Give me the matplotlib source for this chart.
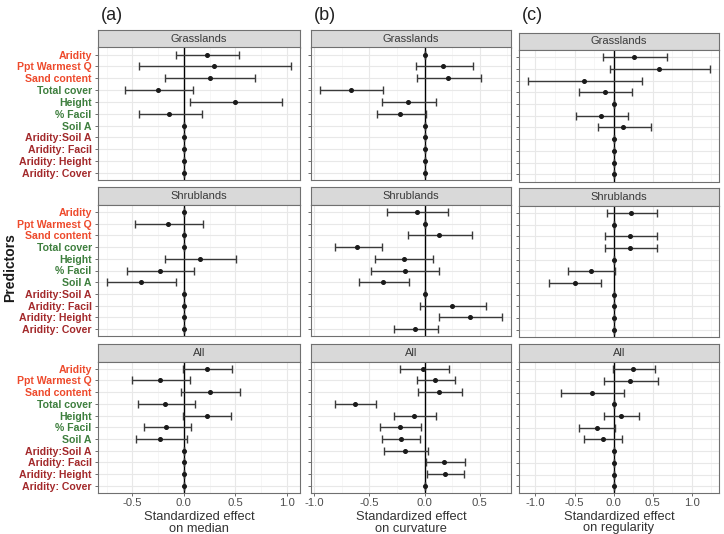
import matplotlib
matplotlib.use("Agg")
import matplotlib.pyplot as plt
from matplotlib.ticker import MultipleLocator, FormatStrFormatter

plt.rcParams["font.family"] = ["Liberation Sans", "DejaVu Sans"]

# --- predictors (top to bottom) and their label colours ---
predictors = ["Aridity", "Ppt Warmest Q", "Sand content", "Total cover", "Height",
              "% Facil", "Soil A", "Aridity:Soil A", "Aridity: Facil",
              "Aridity: Height", "Aridity: Cover"]
label_groups = ["clim", "clim", "clim", "veg", "veg", "veg", "veg",
                "int", "int", "int", "int"]
GROUP_COLOR = {"clim": "#EE4A2C", "veg": "#3E7F3E", "int": "#A3292B"}

strips = ["Grasslands", "Shrublands", "All"]
panel_tags = ["(a)", "(b)", "(c)"]
xtitles = [("Standardized effect", "on median"),
           ("Standardized effect", "on curvature"),
           ("Standardized effect", "on regularity")]

# --- (a) effect on median ---
med_grass_est = [0.22, 0.29, 0.25, -0.25, 0.50, -0.14, 0, 0, 0, 0, 0]
med_grass_lo = [-0.08, -0.44, -0.18, -0.57, 0.06, -0.44, 0, 0, 0, 0, 0]
med_grass_hi = [0.54, 1.04, 0.69, 0.09, 0.95, 0.18, 0, 0, 0, 0, 0]

med_shrub_est = [0, -0.15, 0, 0, 0.16, -0.23, -0.42, 0, 0, 0, 0]
med_shrub_lo = [0, -0.48, 0, 0, -0.18, -0.555, -0.746, 0, 0, 0, 0]
med_shrub_hi = [0, 0.19, 0, 0, 0.51, 0.10, -0.08, 0, 0, 0, 0]

med_all_est = [0.22, -0.23, 0.25, -0.18, 0.22, -0.17, -0.23, 0, 0, 0, 0]
med_all_lo = [-0.01, -0.50, -0.025, -0.45, -0.013, -0.39, -0.47, 0, 0, 0, 0]
med_all_hi = [0.47, 0.06, 0.55, 0.11, 0.46, 0.07, 0.03, 0, 0, 0, 0]

# --- (b) effect on curvature ---
curv_grass_est = [0, 0.17, 0.21, -0.67, -0.15, -0.22, 0, 0, 0, 0, 0]
curv_grass_lo = [0, -0.075, -0.066, -0.946, -0.387, -0.43, 0, 0, 0, 0, 0]
curv_grass_hi = [0, 0.435, 0.507, -0.372, 0.105, 0.015, 0, 0, 0, 0, 0]

curv_shrub_est = [-0.07, 0, 0.135, -0.61, -0.19, -0.18, -0.375, 0, 0.246, 0.408, -0.087]
curv_shrub_lo = [-0.336, 0, -0.153, -0.811, -0.45, -0.489, -0.597, 0, -0.045, 0.132, -0.276]
curv_shrub_hi = [0.213, 0, 0.432, -0.39, 0.075, 0.132, -0.144, 0, 0.559, 0.700, 0.120]

curv_all_est = [-0.01, 0.096, 0.135, -0.631, -0.096, -0.225, -0.216, -0.177, 0.177, 0.183, 0]
curv_all_lo = [-0.222, -0.066, -0.057, -0.811, -0.276, -0.405, -0.387, -0.366, 0.009, 0.021, 0]
curv_all_hi = [0.219, 0.273, 0.336, -0.438, 0.102, -0.03, -0.039, 0.027, 0.366, 0.357, 0]

# --- (c) effect on regularity ---
reg_grass_est = [0.256, 0.582, -0.376, -0.115, 0, -0.162, 0.124, 0, 0, 0, 0]
reg_grass_lo = [-0.141, -0.051, -1.094, -0.444, 0, -0.487, -0.20, 0, 0, 0, 0]
reg_grass_hi = [0.679, 1.231, 0.368, 0.236, 0, 0.179, 0.474, 0, 0, 0, 0]

reg_shrub_est = [0.227, 0, 0.21, 0.21, 0, -0.286, -0.50, 0, 0, 0, 0]
reg_shrub_lo = [-0.09, 0, -0.11, -0.106, 0, -0.581, -0.828, 0, 0, 0, 0]
reg_shrub_hi = [0.551, 0, 0.551, 0.551, 0, 0.022, -0.162, 0, 0, 0, 0]

reg_all_est = [0.249, 0.214, -0.282, 0, 0.09, -0.218, -0.141, 0, 0, 0, 0]
reg_all_lo = [-0.008, -0.128, -0.674, 0, -0.123, -0.444, -0.376, 0, 0, 0, 0]
reg_all_hi = [0.535, 0.573, 0.133, 0, 0.329, 0.018, 0.108, 0, 0, 0, 0]

columns = [
    [(med_grass_est, med_grass_lo, med_grass_hi),
     (med_shrub_est, med_shrub_lo, med_shrub_hi),
     (med_all_est, med_all_lo, med_all_hi)],
    [(curv_grass_est, curv_grass_lo, curv_grass_hi),
     (curv_shrub_est, curv_shrub_lo, curv_shrub_hi),
     (curv_all_est, curv_all_lo, curv_all_hi)],
    [(reg_grass_est, reg_grass_lo, reg_grass_hi),
     (reg_shrub_est, reg_shrub_lo, reg_shrub_hi),
     (reg_all_est, reg_all_lo, reg_all_hi)],
]

# --- layout in pixels (figure is 724 x 534) ---
W, H = 724, 534
COL_X = [(98, 300), (311, 511), (519, 719)]
# (strip top, panel top, panel bottom) per row, per column
ROW_Y = [
    [(30, 47.5, 180), (187, 205, 336), (343.5, 361.5, 493)],
    [(30, 47.5, 180), (187, 205, 336), (343.5, 361.5, 493)],
    [(33, 50, 181.5), (188.3, 206, 336.7), (344, 362.3, 493.3)],
]
# baselines of the two x-title lines
XTITLE_Y = [(520.5, 532), (520.5, 532), (520, 531.5)]

BORDER = "#707070"
GRID_MAJ = "#e8e8e8"
GRID_MIN = "#f3f3f3"
STRIP_BG = "#d9d9d9"
TICK_TXT = "#4d4d4d"


def rect(x0, y0, x1, y1):
    return [x0 / W, 1 - y1 / H, (x1 - x0) / W, (y1 - y0) / H]


fig = plt.figure(figsize=(W / 100, H / 100), dpi=100)
fig.patch.set_facecolor("white")

n = len(predictors)
ypos = list(range(n, 0, -1))

for c, col in enumerate(columns):
    x0, x1 = COL_X[c]
    lo_all = min(min(lo) for _, lo, _ in col)
    hi_all = max(max(hi) for _, _, hi in col)
    pad = 0.05 * (hi_all - lo_all)
    xlim = (lo_all - pad, hi_all + pad)

    for r, (est, lo, hi) in enumerate(col):
        s_top, p_top, p_bot = ROW_Y[c][r]

        # strip
        sax = fig.add_axes(rect(x0, s_top, x1, p_top))
        sax.set_facecolor(STRIP_BG)
        sax.set_xticks([])
        sax.set_yticks([])
        for sp in sax.spines.values():
            sp.set_color(BORDER)
            sp.set_linewidth(0.8)
        sax.text(0.5, 0.5, strips[r], ha="center", va="center",
                 fontsize=8, color="#3a3a3a", transform=sax.transAxes)

        ax = fig.add_axes(rect(x0, p_top, x1, p_bot))
        ax.set_xlim(*xlim)
        ax.set_ylim(0.4, n + 0.6)
        ax.xaxis.set_major_locator(MultipleLocator(0.5))
        ax.xaxis.set_minor_locator(MultipleLocator(0.25))
        ax.xaxis.set_major_formatter(FormatStrFormatter("%.1f"))
        ax.set_yticks(ypos)
        ax.grid(True, which="major", color=GRID_MAJ, lw=0.8, zorder=0)
        ax.grid(True, which="minor", axis="x", color=GRID_MIN, lw=0.5, zorder=0)
        ax.set_axisbelow(True)
        for sp in ax.spines.values():
            sp.set_color(BORDER)
            sp.set_linewidth(0.8)
        ax.tick_params(which="minor", length=0)
        ax.tick_params(which="major", length=2.5, width=0.6, color="#555555",
                       labelsize=8.2, labelcolor=TICK_TXT, pad=2)
        ax.tick_params(axis="x", pad=0.8)

        ax.axvline(0, color="black", lw=1.0, zorder=2)
        xerr = [[e - l for e, l in zip(est, lo)], [h - e for e, h in zip(est, hi)]]
        ax.errorbar(est, ypos, xerr=xerr, fmt="none", ecolor="#3a3a3a",
                    elinewidth=1.0, capsize=3.2, capthick=1.0, zorder=3)
        ax.plot(est, ypos, "o", color="#1a1a1a", ms=2.6, zorder=4)

        if c == 0:
            ax.set_yticklabels(predictors)
            for lab, g in zip(ax.get_yticklabels(), label_groups):
                lab.set_color(GROUP_COLOR[g])
                lab.set_fontweight("bold")
                lab.set_fontsize(7.6)
        else:
            ax.set_yticklabels([])

        if r < 2:
            ax.set_xticklabels([])
            ax.tick_params(axis="x", length=0)
        else:
            xc = (x0 + x1) / 2 / W
            for line, yy in zip(xtitles[c], XTITLE_Y[c]):
                fig.text(xc, 1 - yy / H, line, fontsize=9.3, color="#333333",
                         ha="center", va="baseline")

    fig.text((x0 + 3) / W, 1 - 16 / H, panel_tags[c], fontsize=13,
             color="#222222", ha="left", va="center")

fig.text(10 / W, 1 - 268 / H, "Predictors", rotation=90, fontsize=10,
         fontweight="bold", color="#1a1a1a", ha="center", va="center")

fig.savefig("out.png", dpi=100, facecolor="white")
